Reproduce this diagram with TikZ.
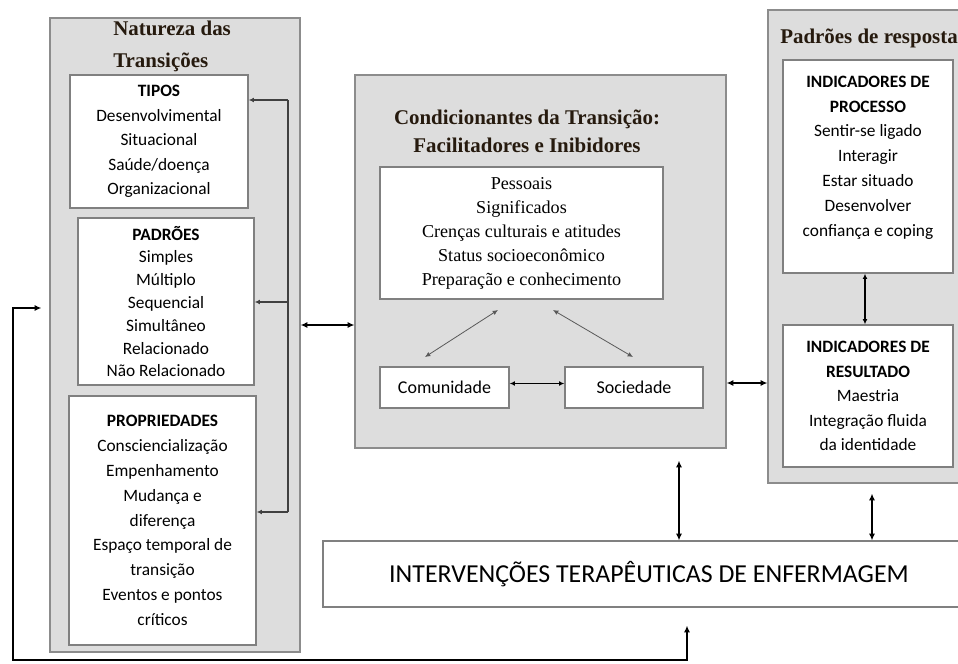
\documentclass[tikz,border=0pt]{standalone}
\usepackage{fontspec}
\setmainfont{Carlito}
\newfontfamily\tnr{Liberation Serif}
\usetikzlibrary{arrows.meta,shadows}
\definecolor{boxgrey}{RGB}{221,221,221}
\definecolor{titlecol}{RGB}{38,26,14}
\tikzset{
  greybox/.style={draw=black!45, fill=boxgrey, line width=0.9pt,
    drop shadow={shadow xshift=0.5pt, shadow yshift=-0.9pt, fill=black!60, opacity=0.6}},
  whitebox/.style={draw=black!50, fill=white, line width=0.9pt, align=center, inner sep=0pt,
    font=\fontsize{13}{18.4}\selectfont,
    drop shadow={shadow xshift=0.5pt, shadow yshift=-0.9pt, fill=black!60, opacity=0.6}},
  boxtitle/.style={font=\tnr\bfseries\fontsize{15.7}{24}\selectfont, text=titlecol, inner sep=0pt},
  dbl/.style={{Latex[length=5pt,width=4.5pt]}-{Latex[length=5pt,width=4.5pt]}, line width=1.6pt},
  dblthin/.style={{Latex[length=4pt,width=3.6pt]}-{Latex[length=4pt,width=3.6pt]}, line width=1pt},
  brk/.style={line width=1pt, draw=black!75},
  brkarrow/.style={brk, -{Latex[length=4pt,width=3.6pt]}},
  diag/.style={dblthin, line width=0.6pt, draw=black!65},
}
\begin{document}
\begin{tikzpicture}[x=0.75pt,y=-0.75pt]
  \clip (0,0) rectangle (958,664);
  \fill[white] (0,0) rectangle (958,664);

  \node[greybox, minimum width=187.5pt, minimum height=475.5pt] (nat) at (175,335){};
  \node[boxtitle, align=left, anchor=west] (nattitle) at (113,46){Natureza das\\Transições};
  \node[whitebox, minimum width=133.5pt, minimum height=99.75pt] (tipos) at (159,141.5)
    {\textbf{TIPOS}\\Desenvolvimental\\Situacional\\Saúde/doença\\Organizacional};
  \node[whitebox, minimum width=132pt, minimum height=125.25pt, font=\fontsize{13}{17.1}\selectfont] (padroes) at (166,301.5)
    {\textbf{PADRÕES}\\Simples\\Múltiplo\\Sequencial\\Simultâneo\\Relacionado\\Não Relacionado};
  \node[whitebox, minimum width=140.25pt, minimum height=186.75pt, font=\fontsize{13}{18.6}\selectfont] (prop) at (162.5,520.5)
    {\textbf{PROPRIEDADES}\\Consciencialização\\Empenhamento\\Mudança e\\diferença\\Espaço temporal de\\transição\\Eventos e pontos\\críticos};

  \node[greybox, minimum width=278.25pt, minimum height=279.75pt] (cen) at (540.5,261.5){};
  \node[boxtitle, align=center, font=\tnr\bfseries\fontsize{15.7}{21}\selectfont] (centitle) at (527,131)
    {Condicionantes da Transição:\\Facilitadores e Inibidores};
  \node[whitebox, minimum width=212.25pt, minimum height=99pt, font=\tnr\fontsize{13.6}{18}\selectfont] (pes) at (521.5,233)
    {Pessoais\\Significados\\Crenças culturais e atitudes\\Status socioeconômico\\Preparação e conhecimento};
  \node[whitebox, minimum width=96.75pt, minimum height=30.75pt, font=\fontsize{13.5}{16}\selectfont] (com) at (444.5,387.5){Comunidade};
  \node[whitebox, minimum width=103.5pt, minimum height=30.75pt, font=\fontsize{13.5}{16}\selectfont] (soc) at (634,387.5){Sociedade};

  \node[greybox, minimum width=155.25pt, minimum height=354.75pt] (resp) at (871.5,246.5){};
  \node[boxtitle, anchor=west] (resptitle) at (780,38){Padrões de resposta};
  \node[whitebox, minimum width=127.5pt, minimum height=159.75pt] (proc) at (868,166.5){};
  \node[align=center, inner sep=0pt, font=\fontsize{13}{18.6}\selectfont] (proctext) at (868,157.5)
    {\textbf{INDICADORES DE}\\\textbf{PROCESSO}\\Sentir-se ligado\\Interagir\\Estar situado\\Desenvolver\\confiança e coping};
  \node[whitebox, minimum width=127.5pt, minimum height=106.5pt] (res) at (868,396)
    {\textbf{INDICADORES DE}\\\textbf{RESULTADO}\\Maestria\\Integração fluida\\da identidade};

  \node[whitebox, minimum width=489pt, minimum height=49.5pt, font=\fontsize{19.4}{22}\selectfont] (ite) at (649,574)
    {INTERVENÇÕES TERAPÊUTICAS DE ENFERMAGEM};

  \coordinate (brt) at (288,100);
  \coordinate (brm) at (288,302);
  \coordinate (brb) at (288,512);
  \draw[brk] (brt) -- (brb);
  \draw[brkarrow] (brt) -- (brt -| tipos.east);
  \draw[brkarrow] (brm) -- (brm -| padroes.east);
  \draw[brkarrow] (brb) -- (brb -| prop.east);

  \coordinate (nc) at ([yshift=7.5pt]nat.east);
  \draw[dbl] (nc) -- (nc -| cen.west);
  \coordinate (cr) at (cen.east |- 0,383);
  \draw[dbl] (cr) -- (cr -| resp.west);

  \coordinate (d1a) at (498,310);
  \coordinate (d1b) at (425,357);
  \coordinate (d2a) at (553,310);
  \coordinate (d2b) at (633,357);
  \draw[diag] (d1a) -- (d1b);
  \draw[diag] (d2a) -- (d2b);
  \coordinate (cs) at ([yshift=3pt]com.east);
  \draw[dblthin] (cs) -- (cs -| soc.west);

  \coordinate (pr) at (proc.south -| 865,0);
  \draw[dblthin] (pr) -- (pr |- res.north);

  \coordinate (cv) at (cen.south -| 679,0);
  \draw[dbl, shorten <=9pt] (cv) -- (cv |- ite.north);
  \coordinate (rv) at (resp.south -| 872,0);
  \draw[dbl, shorten <=7.5pt] (rv) -- (rv |- ite.north);

  \draw[dbl, shorten <=6pt, shorten >=13.5pt] (nat.west |- 0,308) -| (13,660) -| (ite.south -| 687,0);
\end{tikzpicture}
\end{document}
